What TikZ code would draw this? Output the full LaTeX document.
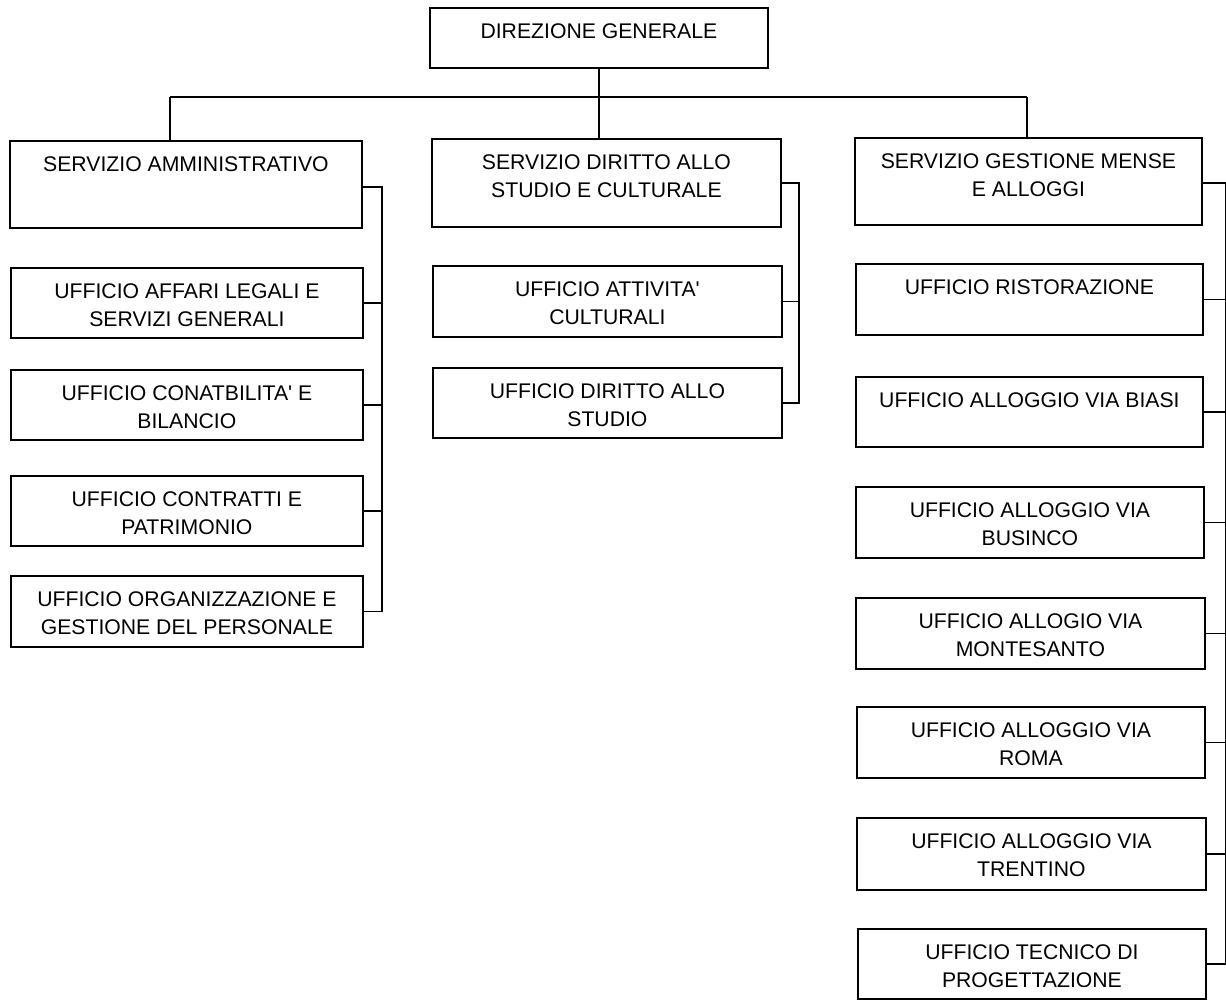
\documentclass[tikz,border=0pt]{standalone}
\usepackage{fontspec}
\setmainfont{Liberation Sans}
\newcommand\orgbox[6]{%
  \node[box, minimum width={(#4-#2)*1pt}, minimum height={(#5-#3)*1pt}] (#1) at (#2,#3) {};
  \node[lbl] (#1t) at ([yshift=-16.4pt]#1.north) {#6};
}
\begin{document}
\begin{tikzpicture}[x=1pt,y=-1pt,
  box/.style={draw=black, line width=1.8pt, rectangle, inner sep=0pt, anchor=north west},
  lbl/.style={anchor=north, align=center, inner sep=0pt, font=\fontsize{21.2}{28}\selectfont},
  link/.style={draw=black, line width=1.6pt}]
\useasboundingbox (0,0) rectangle (1226,999);
\clip (0,0) rectangle (1226,999);

% top
\orgbox{dg}{429}{7}{767}{67}{DIREZIONE GENERALE}
% services
\orgbox{sa}{9}{140}{361}{227}{SERVIZIO AMMINISTRATIVO}
\orgbox{sd}{431}{138}{780}{226}{SERVIZIO DIRITTO ALLO\\STUDIO E CULTURALE}
\orgbox{sg}{854}{137}{1201}{224}{SERVIZIO GESTIONE MENSE\\E ALLOGGI}
% administrative offices
\orgbox{aff}{10}{267}{362}{337}{UFFICIO AFFARI LEGALI E\\SERVIZI GENERALI}
\orgbox{con}{10}{369}{362}{439}{UFFICIO CONATBILITA\textquotesingle{} E\\BILANCIO}
\orgbox{ctr}{10}{475}{362}{545}{UFFICIO CONTRATTI E\\PATRIMONIO}
\orgbox{org}{10}{575}{362}{646}{UFFICIO ORGANIZZAZIONE E\\GESTIONE DEL PERSONALE}
% study offices
\orgbox{att}{432}{265}{781}{336}{UFFICIO ATTIVITA\textquotesingle\\CULTURALI}
\orgbox{dir}{432}{367}{781}{437}{UFFICIO DIRITTO ALLO\\STUDIO}
% housing offices
\orgbox{ris}{855}{263}{1202}{334}{UFFICIO RISTORAZIONE}
\orgbox{bia}{855}{376}{1202}{446}{UFFICIO ALLOGGIO VIA BIASI}
\orgbox{bus}{855}{486}{1203}{557}{UFFICIO ALLOGGIO VIA\\BUSINCO}
\orgbox{mon}{855}{597}{1204}{668}{UFFICIO ALLOGIO VIA\\MONTESANTO}
\orgbox{rom}{856}{706}{1204}{777}{UFFICIO ALLOGGIO VIA\\ROMA}
\orgbox{tre}{856}{817}{1205}{889}{UFFICIO ALLOGGIO VIA\\TRENTINO}
\orgbox{tec}{857}{928}{1205}{998}{UFFICIO TECNICO DI\\PROGETTAZIONE}

% top connectors
\coordinate (hl) at (170,97);
\coordinate (hr) at (1027,97);
\draw[link] (hl) -- (hr);
\draw[link] (hl) -- (hl |- sa.north);
\draw[link] (dg.south) -- (dg.south |- sd.north);
\draw[link] (hr) -- (hr |- sg.north);

% administrative bus
\coordinate (ab) at (382,187);
\draw[link] (sa.east |- ab) -- (ab) -- (ab |- org.east) -- (org.east);
\foreach \n in {aff,con,ctr} \draw[link] (\n.east) -- (ab |- \n.east);

% study bus
\coordinate (sb) at (799,183);
\draw[link] (sd.east |- sb) -- (sb) -- (sb |- dir.east) -- (dir.east);
\draw[link] (att.east) -- (sb |- att.east);

% housing bus (at the very right edge, half clipped as in the scan)
\coordinate (gb) at (1226,183);
\draw[link] (sg.east |- gb) -- (gb) -- (gb |- tec.east) -- (tec.east);
\foreach \n in {ris,bia,bus,mon,rom,tre} \draw[link] (\n.east) -- (gb |- \n.east);
\end{tikzpicture}
\end{document}
